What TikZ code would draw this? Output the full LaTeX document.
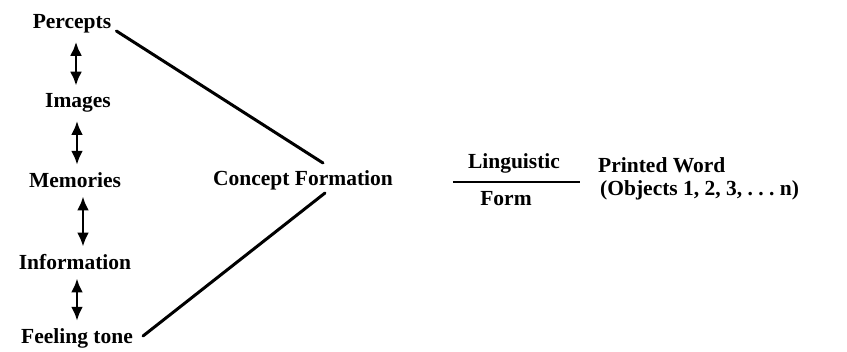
\documentclass[tikz,border=0pt]{standalone}
\usepackage{fontspec}
\setmainfont{Liberation Serif}
\usetikzlibrary{arrows.meta,positioning}

\begin{document}
\begin{tikzpicture}[
    x=1pt, y=-1pt,
    >={Latex[length=14pt,width=12pt]},
    word/.style={font=\fontsize{21.5}{25}\selectfont\bfseries, inner sep=0pt, anchor=base},
    link/.style={line width=3pt, line cap=round},
    updown/.style={<->, line width=2.8pt, shorten <=8pt, shorten >=8pt}
]
    \useasboundingbox (0,0) rectangle (847,352);

    % left column
    \node[word] (percepts) at (72,29) {Percepts};
    \node[word] (images) at (78,108) {Images};
    \node[word] (memories) at (75,188) {Memories};
    \node[word] (information) at (75,270) {Information};
    \node[word] (feeling) at (77,344) {Feeling tone};

    \draw[updown] (percepts.south -| 76,0) -- (images.north -| 76,0);
    \draw[updown] (images.south -| 77,0) -- (memories.north -| 77,0);
    \draw[updown] (memories.south -| 83,0) -- (information.north -| 83,0);
    \draw[updown] (information.south -| 77,0) -- (feeling.north -| 77,0);

    % middle
    \node[word] (concept) at (303,186) {Concept Formation};
    \coordinate (topend) at (323,163);
    \coordinate (botend) at (325,193);
    \draw[link] ([shift={(5,2)}]percepts.base east) -- (topend);
    \draw[link] ([shift={(10,-8)}]feeling.base east) -- (botend);

    % right
    \node[word] (linguistic) at (514,169) {Linguistic};
    \node[word] (form) at (506,206) {Form};
    \draw[line width=2.4pt] ([shift={(-15,13)}]linguistic.base west) -- ([shift={(20,13)}]linguistic.base east);

    \node[word, anchor=base west] (printed) at (598,173) {Printed Word};
    \node[word, anchor=base west] (objects) at (600,196) {(Objects 1, 2, 3, .\ .\ .\ n)};
\end{tikzpicture}
\end{document}
